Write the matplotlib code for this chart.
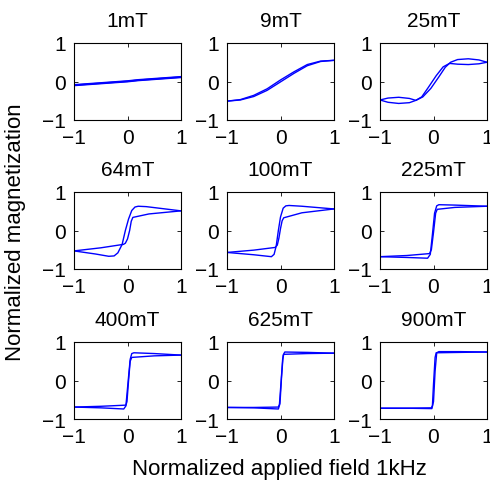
import matplotlib
matplotlib.use("Agg")
import matplotlib.pyplot as plt

plt.rcParams['font.family'] = ['Liberation Sans', 'DejaVu Sans']

titles = ["1mT", "9mT", "25mT", "64mT", "100mT", "225mT", "400mT", "625mT", "900mT"]
ticks = [-1, 0, 1]

# Each panel: rising branch (field increasing) and falling branch (field decreasing)
p1_up_x = [-1, -0.8, -0.6, -0.4, -0.2, 0, 0.2, 0.4, 0.6, 0.8, 1]
p1_up_y = [-0.10, -0.08, -0.06, -0.04, -0.02, 0.0, 0.03, 0.05, 0.07, 0.09, 0.11]
p1_dn_x = [1, 0.8, 0.6, 0.4, 0.2, 0, -0.2, -0.4, -0.6, -0.8, -1]
p1_dn_y = [0.12, 0.10, 0.08, 0.06, 0.04, 0.01, -0.01, -0.03, -0.05, -0.07, -0.09]

p2_up_x = [-1, -0.75, -0.5, -0.25, 0, 0.25, 0.5, 0.75, 1]
p2_up_y = [-0.51, -0.48, -0.39, -0.23, -0.01, 0.21, 0.41, 0.52, 0.55]
p2_dn_x = [1, 0.75, 0.5, 0.25, 0, -0.25, -0.5, -0.75, -1]
p2_dn_y = [0.55, 0.53, 0.44, 0.25, 0.04, -0.19, -0.36, -0.47, -0.51]

p3_up_x = [-1, -0.85, -0.65, -0.45, -0.33, -0.2, -0.05, 0.1, 0.22, 0.32, 0.45, 0.65, 0.85, 1]
p3_up_y = [-0.48, -0.54, -0.57, -0.55, -0.49, -0.40, -0.18, 0.12, 0.37, 0.50, 0.57, 0.59, 0.56, 0.50]
p3_dn_x = [1, 0.85, 0.65, 0.45, 0.30, 0.18, 0.05, -0.1, -0.22, -0.33, -0.45, -0.65, -0.85, -1]
p3_dn_y = [0.50, 0.46, 0.44, 0.45, 0.47, 0.38, 0.15, -0.16, -0.40, -0.49, -0.44, -0.41, -0.43, -0.48]

p4_up_x = [-1, -0.6, -0.35, -0.25, -0.18, -0.1, -0.04, 0.02, 0.08, 0.14, 0.2, 0.35, 1]
p4_up_y = [-0.53, -0.61, -0.67, -0.66, -0.58, -0.36, 0.0, 0.30, 0.52, 0.61, 0.63, 0.62, 0.51]
p4_dn_x = [1, 0.4, 0.1, 0.07, 0.04, 0.0, -0.04, -0.075, -0.5, -1]
p4_dn_y = [0.51, 0.43, 0.34, 0.24, 0.0, -0.22, -0.33, -0.36, -0.45, -0.53]

p5_up_x = [-1, -0.5, -0.17, -0.12, -0.08, -0.04, 0.0, 0.05, 0.1, 0.16, 0.4, 1]
p5_up_y = [-0.57, -0.63, -0.68, -0.62, -0.40, 0.0, 0.35, 0.58, 0.64, 0.65, 0.63, 0.56]
p5_dn_x = [1, 0.4, 0.06, 0.03, 0.0, -0.03, -0.06, -0.1, -0.5, -1]
p5_dn_y = [0.56, 0.46, 0.33, 0.25, 0.05, -0.20, -0.38, -0.44, -0.51, -0.57]

p6_up_x = [-1, -0.5, -0.11, -0.06, -0.02, 0.02, 0.06, 0.1, 0.4, 1]
p6_up_y = [-0.68, -0.70, -0.72, -0.62, -0.10, 0.45, 0.64, 0.67, 0.66, 0.63]
p6_dn_x = [1, 0.4, 0.07, 0.04, 0.0, -0.04, -0.075, -0.5, -1]
p6_dn_y = [0.63, 0.60, 0.55, 0.45, -0.05, -0.50, -0.60, -0.65, -0.68]

p7_up_x = [-1, -0.5, -0.07, -0.03, 0.01, 0.05, 0.08, 0.12, 0.5, 1]
p7_up_y = [-0.69, -0.71, -0.74, -0.66, -0.05, 0.55, 0.70, 0.72, 0.70, 0.66]
p7_dn_x = [1, 0.5, 0.08, 0.05, 0.02, -0.01, -0.03, -0.5, -1]
p7_dn_y = [0.66, 0.64, 0.60, 0.50, 0.0, -0.55, -0.64, -0.67, -0.69]

p8_up_x = [-1, -0.5, -0.04, -0.01, 0.02, 0.05, 0.08, 0.5, 1]
p8_up_y = [-0.70, -0.71, -0.74, -0.60, 0.10, 0.66, 0.74, 0.73, 0.71]
p8_dn_x = [1, 0.5, 0.06, 0.04, 0.01, -0.02, -0.04, -0.5, -1]
p8_dn_y = [0.71, 0.70, 0.68, 0.55, -0.05, -0.62, -0.69, -0.70, -0.70]

p9_up_x = [-1, -0.5, -0.03, 0.0, 0.03, 0.06, 0.1, 0.5, 1]
p9_up_y = [-0.72, -0.72, -0.73, -0.55, 0.25, 0.72, 0.75, 0.75, 0.74]
p9_dn_x = [1, 0.5, 0.05, 0.03, 0.0, -0.02, -0.04, -0.5, -1]
p9_dn_y = [0.74, 0.73, 0.72, 0.60, -0.10, -0.65, -0.71, -0.72, -0.72]

panels = [
    (p1_up_x, p1_up_y, p1_dn_x, p1_dn_y),
    (p2_up_x, p2_up_y, p2_dn_x, p2_dn_y),
    (p3_up_x, p3_up_y, p3_dn_x, p3_dn_y),
    (p4_up_x, p4_up_y, p4_dn_x, p4_dn_y),
    (p5_up_x, p5_up_y, p5_dn_x, p5_dn_y),
    (p6_up_x, p6_up_y, p6_dn_x, p6_dn_y),
    (p7_up_x, p7_up_y, p7_dn_x, p7_dn_y),
    (p8_up_x, p8_up_y, p8_dn_x, p8_dn_y),
    (p9_up_x, p9_up_y, p9_dn_x, p9_dn_y),
]

W, H = 490, 481
fig = plt.figure(figsize=(W / 100, H / 100), dpi=100)

col_left = [74, 227, 380]
row_top = [44, 193, 343]
aw, ah = 107, 77

for i, (ux, uy, dx, dy) in enumerate(panels):
    r, c = divmod(i, 3)
    ax = fig.add_axes([col_left[c] / W, 1 - (row_top[r] + ah) / H, aw / W, ah / H])
    lw = 1.4 if i == 0 else 1.0
    ax.plot(ux, uy, color=(0, 0, 1), lw=lw)
    ax.plot(dx, dy, color=(0, 0, 1), lw=lw)
    ax.set_xlim(-1, 1)
    ax.set_ylim(-1, 1)
    ax.set_xticks(ticks)
    ax.set_yticks(ticks)
    ax.tick_params(direction='in', length=3, width=0.6, top=True, right=True,
                   labelsize=15, pad=6)
    for s in ax.spines.values():
        s.set_linewidth(0.8)
    ax.set_title(titles[i], fontsize=15, pad=12)

fig.text(16 / W, 1 - 232 / H, "Normalized magnetization", rotation=90,
         ha='center', va='center', fontsize=16)
fig.text(279 / W, 1 - 475 / H, "Normalized applied field 1kHz",
         ha='center', va='baseline', fontsize=16)

fig.savefig("out.png", dpi=100)
